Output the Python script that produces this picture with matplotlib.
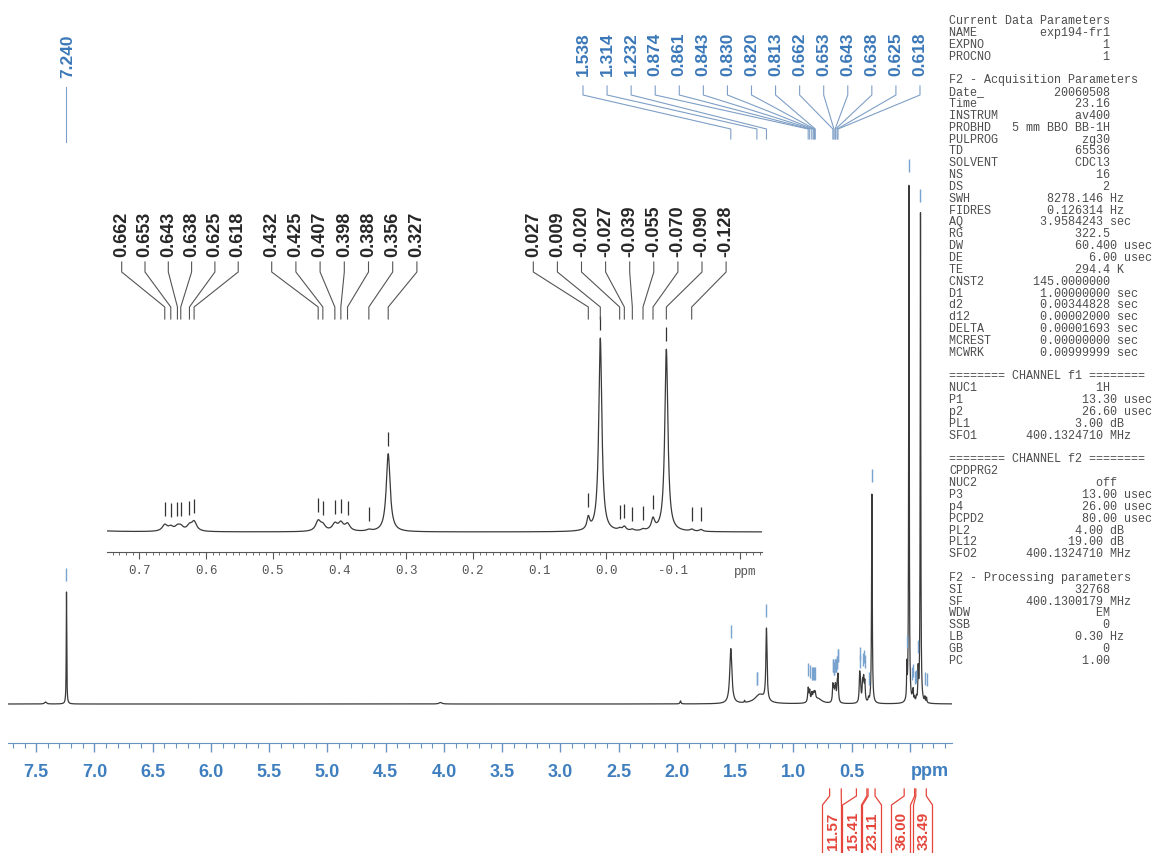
import numpy as np
import matplotlib
matplotlib.use("Agg")
import matplotlib.pyplot as plt
from matplotlib.lines import Line2D

# peak table (ppm, height in main-plot units, half width in ppm)
peak_ppm = [7.240, 7.42, 4.03, 1.97, 1.538, 1.42, 1.29, 1.232,
            0.874, 0.861, 0.843, 0.830, 0.820, 0.813, 0.79,
            0.662, 0.653, 0.643, 0.638, 0.625, 0.618,
            0.432, 0.425, 0.407, 0.398, 0.388, 0.356, 0.327,
            0.027, 0.009, -0.020, -0.027, -0.039, -0.055, -0.070, -0.090,
            -0.128, -0.142]
peak_height = [112, 2, 1.5, 3, 55, 2, 9, 72,
               14, 11, 8, 7, 6, 6, 5,
               17, 11, 11, 11, 14, 25,
               27, 15, 19, 21, 19, 4, 210,
               32, 520, 5, 11, 4, 4, 30, 490,
               5, 5]
peak_width = [0.0025, 0.01, 0.015, 0.005, 0.011, 0.003, 0.05, 0.006,
              0.005, 0.005, 0.005, 0.005, 0.005, 0.005, 0.04,
              0.0045, 0.0045, 0.0045, 0.0045, 0.0045, 0.0045,
              0.0045, 0.0045, 0.0045, 0.0045, 0.0045, 0.004, 0.0035,
              0.0025, 0.0028, 0.003, 0.003, 0.003, 0.003, 0.003, 0.0028,
              0.003, 0.003]

main_labels = ["1.538", "1.314", "1.232", "0.874", "0.861", "0.843", "0.830",
               "0.820", "0.813", "0.662", "0.653", "0.643", "0.638", "0.625", "0.618"]
inset_groups = [["0.662", "0.653", "0.643", "0.638", "0.625", "0.618"],
                ["0.432", "0.425", "0.407", "0.398", "0.388", "0.356", "0.327"],
                ["0.027", "0.009", "-0.020", "-0.027", "-0.039", "-0.055",
                 "-0.070", "-0.090", "-0.128"]]
extra_marks = [-0.142]

main_ticks = [7.5, 7.0, 6.5, 6.0, 5.5, 5.0, 4.5, 4.0, 3.5, 3.0, 2.5, 2.0, 1.5, 1.0, 0.5, 0.0]
inset_ticks = [0.7, 0.6, 0.5, 0.4, 0.3, 0.2, 0.1, 0.0, -0.1, -0.2]

integral_values = ["11.57", "15.41", "23.11", "36.00", "33.49"]
integral_bounds = [(0.69, 0.59), (0.46, 0.37), (0.36, 0.30), (0.05, -0.04), (-0.05, -0.14)]

params = [
    ("Current Data Parameters", "", 0, ""),
    ("NAME", "exp194-fr1", 23, ""),
    ("EXPNO", "1", 23, ""),
    ("PROCNO", "1", 23, ""),
    ("", "", 0, ""),
    ("F2 - Acquisition Parameters", "", 0, ""),
    ("Date_", "20060508", 23, ""),
    ("Time", "23.16", 23, ""),
    ("INSTRUM", "av400", 23, ""),
    ("PROBHD", "5 mm BBO BB-1H", 23, ""),
    ("PULPROG", "zg30", 23, ""),
    ("TD", "65536", 23, ""),
    ("SOLVENT", "CDCl3", 23, ""),
    ("NS", "16", 23, ""),
    ("DS", "2", 23, ""),
    ("SWH", "8278.146", 22, "Hz"),
    ("FIDRES", "0.126314", 22, "Hz"),
    ("AQ", "3.9584243", 22, "sec"),
    ("RG", "322.5", 23, ""),
    ("DW", "60.400", 24, "usec"),
    ("DE", "6.00", 24, "usec"),
    ("TE", "294.4", 23, "K"),
    ("CNST2", "145.0000000", 23, ""),
    ("D1", "1.00000000", 23, "sec"),
    ("d2", "0.00344828", 23, "sec"),
    ("d12", "0.00002000", 23, "sec"),
    ("DELTA", "0.00001693", 23, "sec"),
    ("MCREST", "0.00000000", 23, "sec"),
    ("MCWRK", "0.00999999", 23, "sec"),
    ("", "", 0, ""),
    ("======== CHANNEL f1 ========", "", 0, ""),
    ("NUC1", "1H", 23, ""),
    ("P1", "13.30", 24, "usec"),
    ("p2", "26.60", 24, "usec"),
    ("PL1", "3.00", 22, "dB"),
    ("SFO1", "400.1324710", 22, "MHz"),
    ("", "", 0, ""),
    ("======== CHANNEL f2 ========", "", 0, ""),
    ("CPDPRG2", "", 0, ""),
    ("NUC2", "off", 24, ""),
    ("P3", "13.00", 24, "usec"),
    ("p4", "26.00", 24, "usec"),
    ("PCPD2", "80.00", 24, "usec"),
    ("PL2", "4.00", 22, "dB"),
    ("PL12", "19.00", 22, "dB"),
    ("SFO2", "400.1324710", 22, "MHz"),
    ("", "", 0, ""),
    ("F2 - Processing parameters", "", 0, ""),
    ("SI", "32768", 23, ""),
    ("SF", "400.1300179", 22, "MHz"),
    ("WDW", "EM", 23, ""),
    ("SSB", "0", 23, ""),
    ("LB", "0.30", 22, "Hz"),
    ("GB", "0", 23, ""),
    ("PC", "1.00", 23, ""),
]

W, H = 1155, 854
BLUE = "#3b78b8"
MARK_BLUE = "#79a3cf"
RED = "#e5453a"


def fx(px):
    return px / W


def fy(py):
    return 1 - py / H


def spectrum(x):
    y = np.zeros_like(x)
    for p, h, w in zip(peak_ppm, peak_height, peak_width):
        y += h * w ** 2 / ((x - p) ** 2 + w ** 2)
    return y


def xpix(ax, ppm):
    return ax.transData.transform((ppm, 0))[0]


def line_px(fig, xs, ys, **kw):
    fig.add_artist(Line2D([fx(v) for v in xs], [fy(v) for v in ys],
                          transform=fig.transFigure, **kw))


fig = plt.figure(figsize=(W / 100, H / 100), dpi=100)
fig.patch.set_facecolor("white")

# ---- main spectrum ----
ax = fig.add_axes([fx(8), fy(744), (952 - 8) / W, (744 - 150) / H])
x_main = np.arange(7.742, -0.3605, -0.0004)
ax.plot(x_main, spectrum(x_main), color="#3a3a3a", lw=0.9)
ax.set_xlim(7.742, -0.3605)
ax.set_ylim(-39, 555)
for s in ["top", "left", "right"]:
    ax.spines[s].set_visible(False)
ax.spines["bottom"].set_color("#6b93bf")
ax.set_yticks([])
ax.set_xticks(main_ticks)
ax.set_xticklabels([f"{t:.1f}" for t in main_ticks[:-1]] + [""])
ax.set_xticks(np.arange(7.7, -0.35, -0.1), minor=True)
ax.tick_params(axis="x", which="major", direction="out", length=6.5, width=1,
               color="#6b93bf", pad=8, labelsize=13, labelcolor="#3f7fbf")
ax.tick_params(axis="x", which="minor", direction="out", length=3.5, width=0.8,
               color="#6b93bf")
for lab in ax.get_xticklabels():
    lab.set_fontweight("bold")
    lab.set_fontfamily("Liberation Sans")
fig.text(fx(930), fy(772), "ppm", ha="center", va="center",
         fontsize=13, fontweight="bold", color="#3f7fbf", family="Liberation Sans")

# peak markers on the main trace
marked = [float(v) for v in main_labels] + [float(v) for g in inset_groups for v in g] \
    + extra_marks + [7.240, 1.314]
for p in marked:
    s = spectrum(np.array([p]))[0]
    ax.vlines(p, s + 11, s + 24, color=MARK_BLUE, lw=1)

# ---- inset (expansion 0.75 .. -0.23 ppm) ----
inset_scale = 0.372
ax_in = fig.add_axes([fx(107), fy(553), (762 - 107) / W, (553 - 300) / H])
ax_in.patch.set_alpha(0)
x_in = np.arange(0.7486, -0.2334, -0.0002)
ax_in.plot(x_in, spectrum(x_in), color="#3a3a3a", lw=0.9)
ax_in.set_xlim(0.7486, -0.2334)
ax_in.set_ylim(-20 / inset_scale, (253 - 20) / inset_scale)
for s in ["top", "left", "right"]:
    ax_in.spines[s].set_visible(False)
ax_in.spines["bottom"].set_color("#555555")
ax_in.spines["bottom"].set_linewidth(0.8)
ax_in.set_yticks([])
ax_in.set_xticks(inset_ticks)
ax_in.set_xticklabels([f"{t:.1f}" for t in inset_ticks[:-1]] + [""])
ax_in.set_xticks(np.arange(0.74, -0.235, -0.01), minor=True)
ax_in.tick_params(axis="x", which="major", direction="out", length=5, width=0.8,
                  color="#555555", pad=4, labelsize=9, labelcolor="#555555")
ax_in.tick_params(axis="x", which="minor", direction="out", length=2, width=0.6,
                  color="#555555")
for lab in ax_in.get_xticklabels():
    lab.set_fontfamily("Liberation Mono")
ax_in.text(-0.208, -0.05, "ppm", transform=ax_in.get_xaxis_transform(), ha="center",
           va="top", fontsize=9, color="#555555", family="Liberation Mono")

for g in inset_groups:
    for v in g:
        p = float(v)
        s = spectrum(np.array([p]))[0]
        ax_in.vlines(p, s + 8 / inset_scale, s + 22 / inset_scale, color="#333333", lw=0.9)
for p in extra_marks:
    s = spectrum(np.array([p]))[0]
    ax_in.vlines(p, s + 8 / inset_scale, s + 22 / inset_scale, color="#333333", lw=0.9)

# ---- peak labels with leader lines ----
for i, lab in enumerate(main_labels):
    lx = 583 + 24.07 * i
    px = xpix(ax, float(lab))
    fig.text(fx(lx), fy(76), lab, rotation=90, ha="center", va="bottom",
             fontsize=12.5, fontweight="bold", color=BLUE, family="Liberation Sans")
    line_px(fig, [lx, lx, px, px], [87, 96, 130, 140], color="#7f9fc6", lw=0.8)

px = xpix(ax, 7.240)
fig.text(fx(px + 1), fy(78), "7.240", rotation=90, ha="center", va="bottom",
         fontsize=12.5, fontweight="bold", color=BLUE, family="Liberation Sans")
line_px(fig, [px, px], [88, 143], color="#7f9fc6", lw=0.8)

group_start = [121.7, 271.7, 533.3]
group_step = [23.3, 24.2, 24.1]
for g, x0, dx in zip(inset_groups, group_start, group_step):
    for i, lab in enumerate(g):
        lx = x0 + dx * i
        px = xpix(ax_in, float(lab))
        fig.text(fx(lx), fy(257), lab, rotation=90, ha="center", va="bottom",
                 fontsize=13, fontweight="bold", color="#262626", family="Liberation Sans")
        line_px(fig, [lx, lx, px, px], [263, 273, 308, 320], color="#555555", lw=0.8)

# ---- integrals ----
box_centers = [832, 852, 872, 901, 923]
for val, (a, b), cx in zip(integral_values, integral_bounds, box_centers):
    xa, xb = xpix(ax, a), xpix(ax, b)
    line_px(fig, [xa, xa, cx - 9.5, cx - 9.5], [790, 797, 806, 856], color=RED, lw=0.9)
    line_px(fig, [xb, xb, cx + 9.5, cx + 9.5], [790, 797, 806, 856], color=RED, lw=0.9)
    fig.text(fx(cx + 0.5), fy(831), val, rotation=90, ha="center", va="center",
             fontsize=11, fontweight="bold", color=RED, family="Liberation Sans")

# ---- acquisition parameters ----
for i, (name, val, end, unit) in enumerate(params):
    if val:
        row = name.ljust(end - len(val)) + val
        if unit:
            row += " " + unit
    else:
        row = name
    fig.text(fx(949), fy(21 + 11.85 * i), row, ha="left", va="center",
             fontsize=8.5, color="#4d4d4d", family="Liberation Mono")

fig.savefig("out.png", dpi=100)
